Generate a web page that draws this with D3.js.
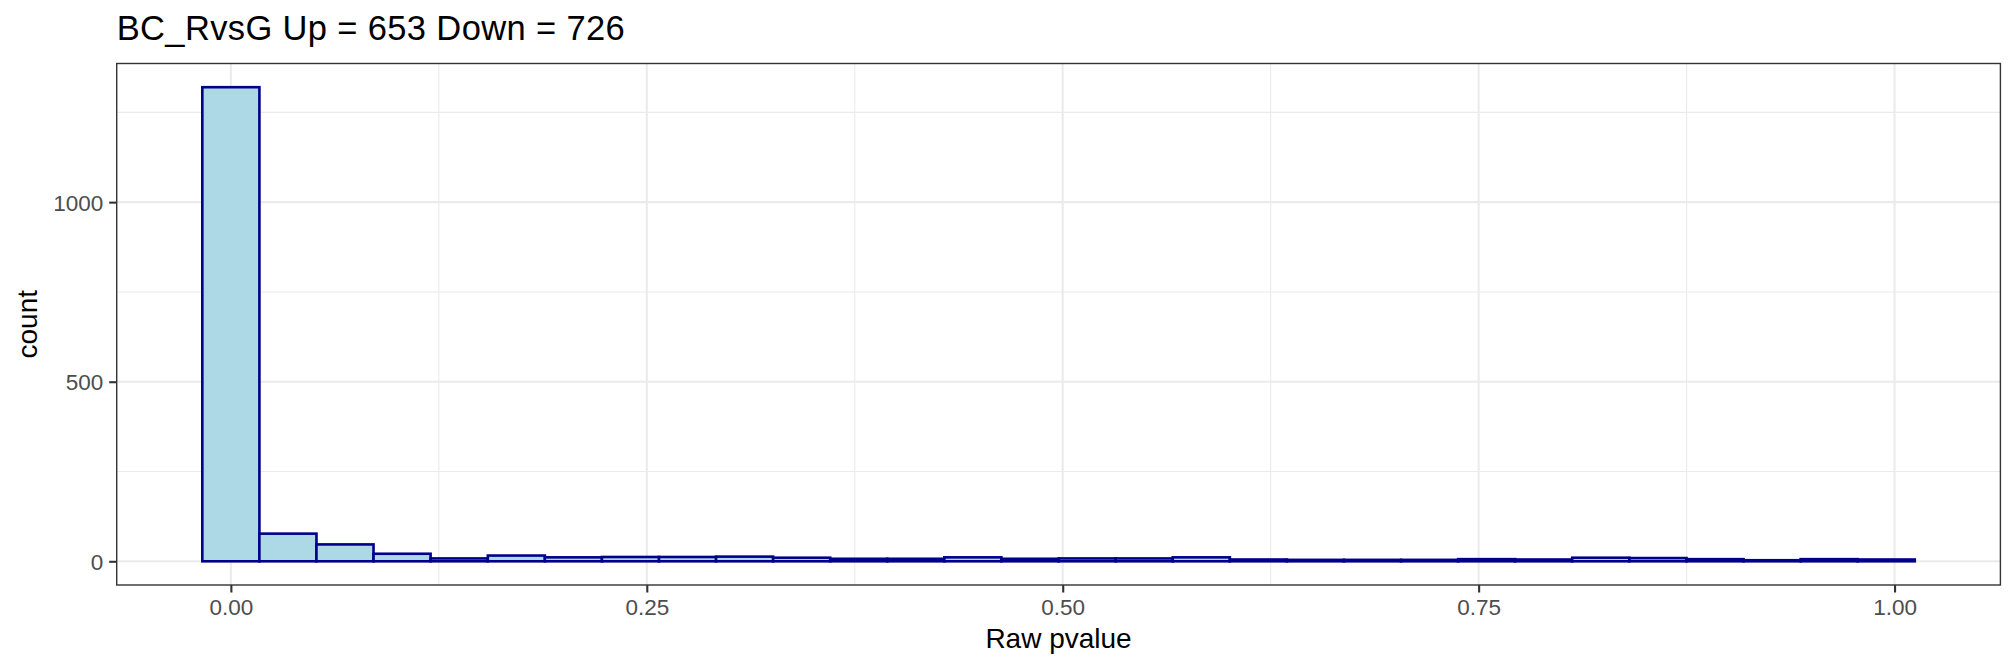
<!DOCTYPE html>
<html>
<head>
<meta charset="utf-8">
<script src="https://cdn.jsdelivr.net/npm/d3@7"></script>
<style>
  html, body { margin: 0; padding: 0; background: #ffffff; }
  svg { display: block; font-family: "Liberation Sans", Arial, Helvetica, sans-serif; }
</style>
</head>
<body>
<svg id="chart" width="2016" height="672"></svg>
<script>
// ---- data ----
const titleText = "BC_RvsG Up = 653 Down = 726";
const xLabel = "Raw pvalue";
const yLabel = "count";
const binWidth = 0.03431;
const binCenters = [0, 0.0343, 0.0686, 0.1029, 0.1372, 0.1716, 0.2059, 0.2402, 0.2745, 0.3088,
                    0.3431, 0.3774, 0.4117, 0.4460, 0.4803, 0.5147, 0.5490, 0.5833, 0.6176, 0.6519,
                    0.6862, 0.7205, 0.7548, 0.7891, 0.8234, 0.8578, 0.8921, 0.9264, 0.9607, 0.9950];
const counts = [1320, 77, 47, 21, 8, 16, 11, 12, 12, 13,
                10, 7, 7, 11, 7, 8, 8, 11, 5, 4,
                4, 4, 6, 5, 10, 9, 6, 3, 6, 5];
const xTicks = [0, 0.25, 0.5, 0.75, 1];
const xTickLabels = ["0.00", "0.25", "0.50", "0.75", "1.00"];
const xMinor = [0.125, 0.375, 0.625, 0.875];
const yTicks = [0, 500, 1000];
const yTickLabels = ["0", "500", "1000"];
const yMinor = [250, 750, 1250];

// ---- layout ----
const panel = { left: 116.7, right: 2000.4, top: 63.5, bottom: 585 };

const svg = d3.select("#chart");

const bins = binCenters.map((c, i) => ({ x0: c - binWidth / 2, x1: c + binWidth / 2, n: counts[i] }));
const xLo = d3.min(bins, d => d.x0), xHi = d3.max(bins, d => d.x1);
const xPad = (xHi - xLo) * 0.05;
const yMax = d3.max(counts), yPad = yMax * 0.05;

const x = d3.scaleLinear().domain([xLo - xPad, xHi + xPad]).range([panel.left, panel.right]);
const y = d3.scaleLinear().domain([0 - yPad, yMax + yPad]).range([panel.bottom, panel.top]);

// panel background
svg.append("rect")
  .attr("x", panel.left).attr("y", panel.top)
  .attr("width", panel.right - panel.left).attr("height", panel.bottom - panel.top)
  .attr("fill", "#ffffff");

const grid = svg.append("g");
// minor grid
grid.selectAll(".xminor").data(xMinor).enter().append("line")
  .attr("x1", d => x(d)).attr("x2", d => x(d))
  .attr("y1", panel.top).attr("y2", panel.bottom)
  .attr("stroke", "#EBEBEB").attr("stroke-width", 1.1);
grid.selectAll(".yminor").data(yMinor).enter().append("line")
  .attr("x1", panel.left).attr("x2", panel.right)
  .attr("y1", d => y(d)).attr("y2", d => y(d))
  .attr("stroke", "#EBEBEB").attr("stroke-width", 1.1);
// major grid
grid.selectAll(".xmajor").data(xTicks).enter().append("line")
  .attr("x1", d => x(d)).attr("x2", d => x(d))
  .attr("y1", panel.top).attr("y2", panel.bottom)
  .attr("stroke", "#EBEBEB").attr("stroke-width", 2.1);
grid.selectAll(".ymajor").data(yTicks).enter().append("line")
  .attr("x1", panel.left).attr("x2", panel.right)
  .attr("y1", d => y(d)).attr("y2", d => y(d))
  .attr("stroke", "#EBEBEB").attr("stroke-width", 2.1);

// bars
svg.append("g").selectAll("rect").data(bins).enter().append("rect")
  .attr("x", d => x(d.x0))
  .attr("y", d => y(d.n))
  .attr("width", d => x(d.x1) - x(d.x0))
  .attr("height", d => y(0) - y(d.n))
  .attr("fill", "#ADD8E6")
  .attr("stroke", "#00008B")
  .attr("stroke-width", 2.6);

// panel border
svg.append("rect")
  .attr("x", panel.left).attr("y", panel.top)
  .attr("width", panel.right - panel.left).attr("height", panel.bottom - panel.top)
  .attr("fill", "none").attr("stroke", "#333333").attr("stroke-width", 1.4);

// axes
const xAxis = d3.axisBottom(x).tickValues(xTicks)
  .tickFormat((d, i) => xTickLabels[i]).tickSize(7.5).tickPadding(6);
const gx = svg.append("g").attr("transform", `translate(0,${panel.bottom})`).call(xAxis);
gx.select(".domain").remove();
gx.selectAll(".tick line").attr("stroke", "#333333").attr("stroke-width", 2.1);
gx.selectAll(".tick text").attr("fill", "#4D4D4D").attr("font-size", 22.5)
  .attr("font-family", "Liberation Sans, Arial, sans-serif").attr("dy", null).attr("y", 30);

const yAxis = d3.axisLeft(y).tickValues(yTicks)
  .tickFormat((d, i) => yTickLabels[i]).tickSize(7.5).tickPadding(6);
const gy = svg.append("g").attr("transform", `translate(${panel.left},0)`).call(yAxis);
gy.select(".domain").remove();
gy.selectAll(".tick line").attr("stroke", "#333333").attr("stroke-width", 2.1);
gy.selectAll(".tick text").attr("fill", "#4D4D4D").attr("font-size", 22.5)
  .attr("font-family", "Liberation Sans, Arial, sans-serif").attr("dy", "0.35em");

// titles
svg.append("text")
  .attr("x", panel.left).attr("y", 39.5)
  .attr("font-size", 34.5).attr("fill", "#000000")
  .attr("textLength", 508).attr("lengthAdjust", "spacing")
  .text(titleText);

svg.append("text")
  .attr("x", (panel.left + panel.right) / 2).attr("y", 648)
  .attr("text-anchor", "middle")
  .attr("font-size", 28).attr("fill", "#000000")
  .text(xLabel);

svg.append("text")
  .attr("transform", `translate(37,${(panel.top + panel.bottom) / 2}) rotate(-90)`)
  .attr("text-anchor", "middle")
  .attr("font-size", 28).attr("fill", "#000000")
  .text(yLabel);
</script>
</body>
</html>
